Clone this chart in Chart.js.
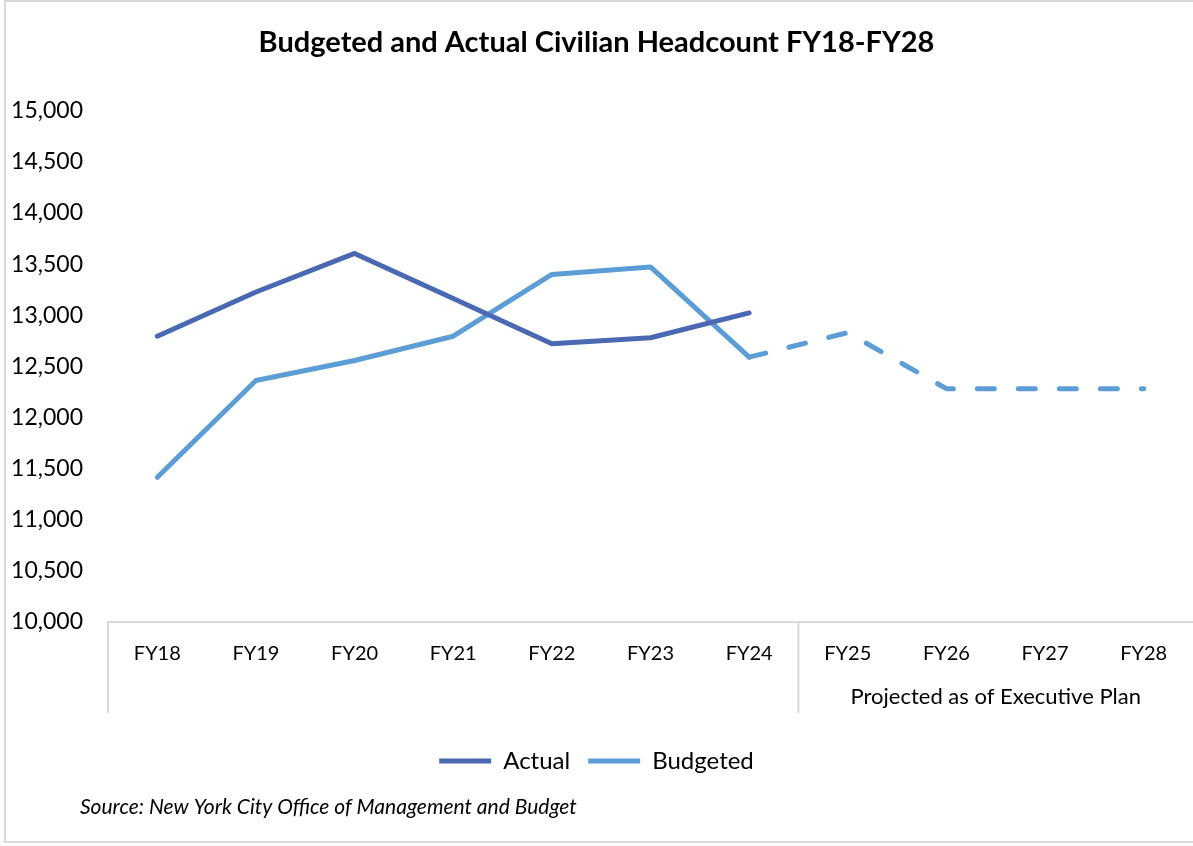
<!DOCTYPE html>
<html>
<head>
<meta charset="utf-8">
<script src="https://cdn.jsdelivr.net/npm/chart.js@4"></script>
<style>
  html, body { margin: 0; padding: 0; background: #fff; }
  #wrap { position: relative; width: 1193px; height: 846px; }
</style>
</head>
<body>
<div id="wrap"><canvas id="chart" width="1193" height="846"></canvas></div>
<script>
const labels = ["FY18", "FY19", "FY20", "FY21", "FY22", "FY23", "FY24", "FY25", "FY26", "FY27", "FY28"];
const actual = [12795, 13228, 13605, 13165, 12722, 12780, 13023, null, null, null, null];
const budgeted = [11415, 12362, 12558, 12795, 13400, 13473, 12590, 12830, 12282, 12282, 12282];
const projectedFrom = 7; // FY25 onwards is projected
const groupLabel = "Projected as of Executive Plan";
const sourceText = "Source: New York City Office of Management and Budget";

const FONT = "Lato, 'Noto Sans', sans-serif";

// frame, separators, projected group label and source note
const extras = {
    id: "extras",
    afterDraw(c) {
        const ctx = c.ctx;
        const x = c.scales.x;
        const area = c.chartArea;
        ctx.save();
        ctx.strokeStyle = "#d9d9d9";
        ctx.lineWidth = 2;
        ctx.strokeRect(5, 1, 1200, 841);

        const sep = (x.getPixelForValue(projectedFrom - 1) + x.getPixelForValue(projectedFrom)) / 2;
        ctx.beginPath();
        ctx.moveTo(area.left, area.bottom);
        ctx.lineTo(area.left, 713);
        ctx.moveTo(sep, area.bottom);
        ctx.lineTo(sep, 713);
        ctx.stroke();

        ctx.fillStyle = "#000";
        ctx.font = "22px " + FONT;
        ctx.textAlign = "center";
        ctx.textBaseline = "middle";
        const mid = (x.getPixelForValue(projectedFrom) + x.getPixelForValue(labels.length - 1)) / 2;
        ctx.fillText(groupLabel, mid, 697);

        ctx.font = "italic 21px " + FONT;
        ctx.textAlign = "left";
        ctx.fillText(sourceText, 80, 807);
        ctx.restore();
    }
};

const c = document.getElementById("chart");
new Chart(c, {
    type: "line",
    data: {
        labels: labels,
        datasets: [{
            label: "Actual",
            data: actual,
            borderColor: "#4a69b2",
            backgroundColor: "#4a69b2",
            borderWidth: 5,
            borderCapStyle: "round",
            borderJoinStyle: "round",
            pointRadius: 0,
            tension: 0
        }, {
            label: "Budgeted",
            data: budgeted,
            borderColor: "#5d9dd5",
            backgroundColor: "#5d9dd5",
            borderWidth: 5,
            borderCapStyle: "round",
            borderJoinStyle: "round",
            pointRadius: 0,
            tension: 0,
            segment: {
                borderDash: ctx => ctx.p0DataIndex >= projectedFrom - 1 ? [17, 24] : undefined
            }
        }]
    },
    options: {
        responsive: false,
        animation: false,
        layout: { padding: { left: 0, right: 0, top: 0, bottom: 63 } },
        scales: {
            x: {
                offset: true,
                grid: { display: false },
                border: { display: true, color: "#d9d9d9", width: 2 },
                ticks: { color: "#000", font: { family: FONT, size: 20 }, padding: 12, maxRotation: 0 },
                afterFit: s => { s.height = 109; }
            },
            y: {
                min: 10000,
                max: 15000,
                grid: { display: false, drawTicks: false },
                border: { display: false },
                ticks: {
                    stepSize: 500,
                    color: "#000",
                    padding: 25,
                    font: { family: FONT, size: 23 },
                    callback: v => v.toLocaleString("en-US")
                },
                afterFit: s => { s.width = 108; }
            }
        },
        plugins: {
            title: {
                display: true,
                text: "Budgeted and Actual Civilian Headcount FY18-FY28",
                color: "#000",
                font: { family: FONT, size: 29, weight: "bold", lineHeight: 1.2 },
                padding: { top: 25, bottom: 51 }
            },
            legend: {
                position: "bottom",
                labels: {
                    usePointStyle: true,
                    pointStyle: "line",
                    pointStyleWidth: 52,
                    color: "#000",
                    padding: 18,
                    font: { family: FONT, size: 24 }
                }
            },
            tooltip: { enabled: false }
        }
    },
    plugins: [extras]
});
</script>
</body>
</html>
